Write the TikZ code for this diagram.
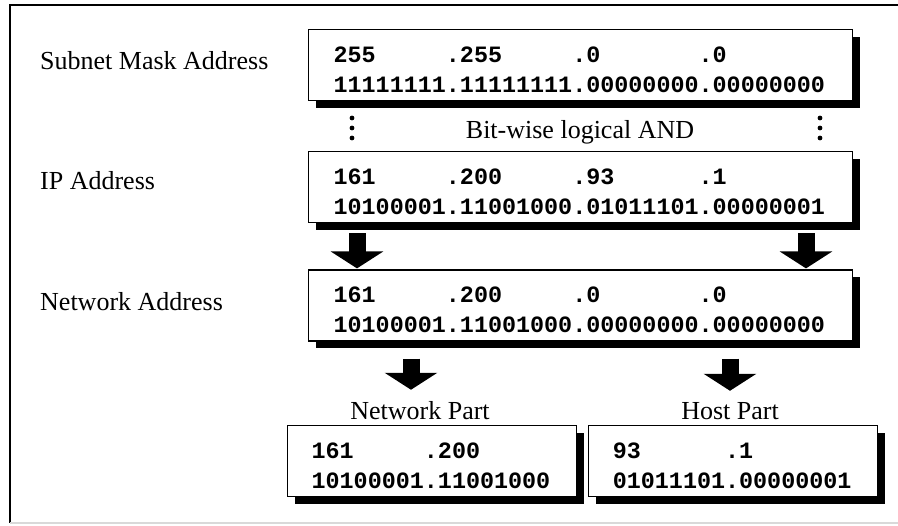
\documentclass[tikz,border=0pt]{standalone}
\usepackage{fontspec}
\setmainfont{Liberation Serif}
\setmonofont{Liberation Mono}
\usepackage{tikz}
\usetikzlibrary{arrows.meta,positioning,shadows}
% blank of n digit widths in the monospaced boxes
\newcommand{\blank}[1]{\hphantom{#1}}

\begin{document}
\begin{tikzpicture}[x=1pt, y=-1pt,
  txt/.style={font=\fontsize{26}{31}\selectfont, inner sep=0pt},
  addr/.style={draw, line width=1.2pt, fill=white, align=left, inner xsep=25pt,
    text width=494pt, minimum height=71pt,
    font=\ttfamily\bfseries\fontsize{23.4}{30}\selectfont,
    drop shadow={shadow xshift=7pt, shadow yshift=-7pt, opacity=1, fill=black}},
  part/.style={addr, inner xsep=24pt, text width=241pt},
  bigarrow/.style={line width=17pt, -{Triangle[width=52pt, length=17pt]}}]
  \useasboundingbox (0,0) rectangle (898,526);
  % frame
  \draw[line width=2pt] (10,523) -- (10,5) -- (898,5);
  \draw[black!15, line width=1.5pt] (10,523) -- (898,523);

  \node[addr, anchor=north west] (mask) at (308,29)
    {\rule{0pt}{25pt}255\blank{00000}.255\blank{00000}.0\blank{0000000}.0\\11111111.11111111.00000000.00000000};
  \node[addr, below=50pt of mask] (ip)
    {\rule{0pt}{25pt}161\blank{00000}.200\blank{00000}.93\blank{000000}.1\\10100001.11001000.01011101.00000001};
  \node[addr, below=46pt of ip] (net)
    {\rule{0pt}{25pt}161\blank{00000}.200\blank{00000}.0\blank{0000000}.0\\10100001.11001000.00000000.00000000};
  \node[part, anchor=north west] (netpart) at (287,425)
    {\rule{0pt}{25pt}161\blank{00000}.200\\10100001.11001000};
  \node[part, right=11pt of netpart] (hostpart)
    {\rule{0pt}{25pt}93\blank{000000}.1\\01011101.00000001};

  \node[txt, anchor=base west] (masklbl) at (40,70) {Subnet Mask Address};
  \node[txt, anchor=base west] (iplbl) at (40,190) {IP Address};
  \node[txt, anchor=base west] (netlbl) at (40,311) {Network Address};
  \node[txt] (andlbl) at (580,132) {Bit-wise logical AND};
  \node[txt, anchor=base] (npl) at (420,420) {Network Part};
  \node[txt, anchor=base] (hpl) at (730,420) {Host Part};

  % vertical dots
  \foreach \dx in {352,820}
    \foreach \dy in {118,128,138}
      \fill (\dx,\dy) circle (2.4pt);

  \draw[bigarrow] ([xshift=49pt,yshift=-10pt]ip.south west) -- ([xshift=49pt,yshift=1pt]net.north west);
  \draw[bigarrow] ([xshift=498pt,yshift=-10pt]ip.south west) -- ([xshift=498pt,yshift=1pt]net.north west);
  \draw[bigarrow] ([xshift=103pt,yshift=-17pt]net.south west) -- ([xshift=-9pt,yshift=12pt]npl.north);
  \draw[bigarrow] ([xshift=422pt,yshift=-17pt]net.south west) -- ([yshift=12pt]hpl.north);
\end{tikzpicture}
\end{document}
